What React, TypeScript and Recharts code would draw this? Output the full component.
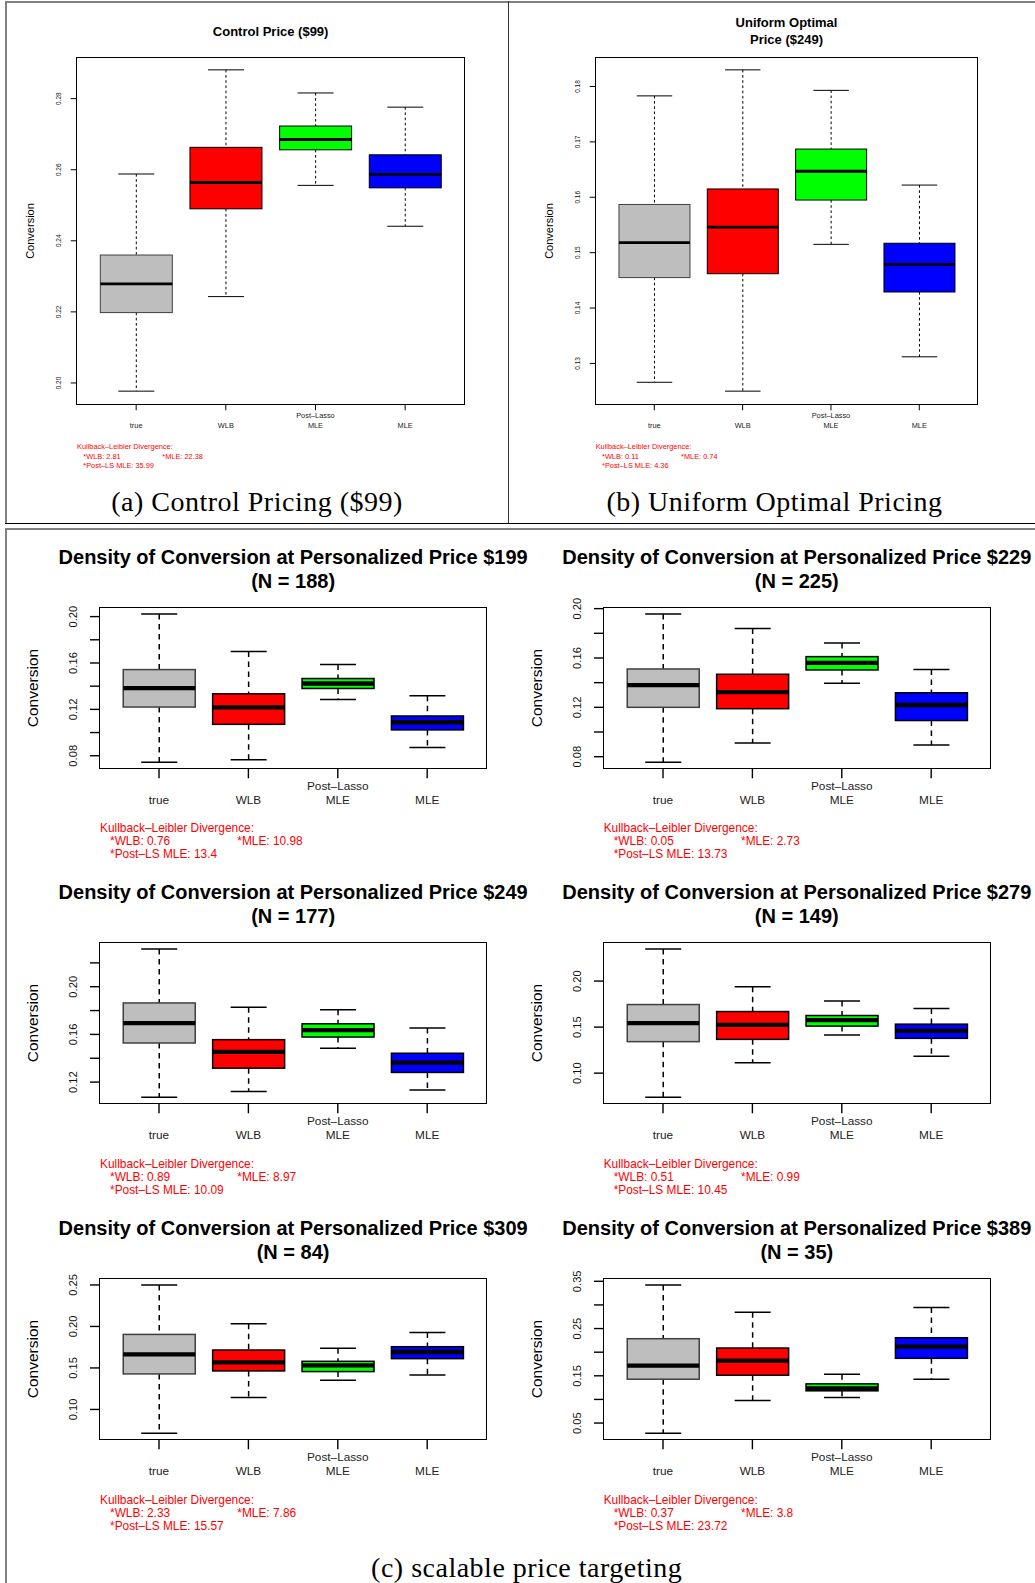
import React from 'react';
import { BarChart, Bar, XAxis, YAxis } from 'recharts';

// ---------- data ----------
const CATEGORIES = ['true', 'WLB', 'Post–Lasso\nMLE', 'MLE'];
const COLORS = ['#BEBEBE', '#FF0000', '#00FF00', '#0000FF'];
const BORDERS = ['#404040', '#000000', '#000000', '#000000'];

// five-number summaries per category: [lower whisker, Q1, median, Q3, upper whisker]
const CONTROL_99 = [
  [0.1977, 0.2198, 0.2279, 0.236, 0.2588],
  [0.2243, 0.249, 0.2564, 0.2663, 0.2881],
  [0.2556, 0.2656, 0.2685, 0.2723, 0.2816],
  [0.2441, 0.2549, 0.2587, 0.2642, 0.2776],
];
const UNIFORM_249 = [
  [0.1266, 0.1455, 0.1518, 0.1587, 0.1783],
  [0.125, 0.1462, 0.1546, 0.1615, 0.183],
  [0.1515, 0.1595, 0.1647, 0.1687, 0.1793],
  [0.1312, 0.1429, 0.1479, 0.1517, 0.1622],
];
const PERS_199 = [
  [0.0743, 0.122, 0.1383, 0.1543, 0.2023],
  [0.0766, 0.1071, 0.1217, 0.1334, 0.17],
  [0.1286, 0.138, 0.1423, 0.1466, 0.1586],
  [0.0871, 0.1023, 0.1089, 0.1143, 0.1317],
];
const PERS_229 = [
  [0.0754, 0.12, 0.138, 0.1511, 0.1957],
  [0.091, 0.1189, 0.1323, 0.1468, 0.1839],
  [0.1396, 0.1503, 0.156, 0.1611, 0.1721],
  [0.0894, 0.1093, 0.1219, 0.1318, 0.1506],
];
const PERS_249 = [
  [0.1072, 0.1528, 0.1694, 0.1864, 0.2317],
  [0.1122, 0.1317, 0.1453, 0.1556, 0.1828],
  [0.1483, 0.1578, 0.1636, 0.1689, 0.1806],
  [0.1133, 0.1281, 0.1364, 0.1442, 0.1653],
];
const PERS_279 = [
  [0.0737, 0.1342, 0.1543, 0.1745, 0.2349],
  [0.1112, 0.1367, 0.1525, 0.1669, 0.1939],
  [0.1414, 0.1511, 0.1576, 0.1626, 0.1784],
  [0.1183, 0.1378, 0.146, 0.1532, 0.1701],
];
const PERS_309 = [
  [0.0712, 0.1428, 0.1664, 0.1904, 0.25],
  [0.1144, 0.1464, 0.1568, 0.1716, 0.2032],
  [0.1352, 0.1456, 0.1532, 0.158, 0.1736],
  [0.1416, 0.1612, 0.1692, 0.1756, 0.1928],
];
const PERS_389 = [
  [0.0282, 0.1428, 0.1716, 0.2285, 0.3423],
  [0.0978, 0.1512, 0.1821, 0.2088, 0.2847],
  [0.1041, 0.1182, 0.1231, 0.1329, 0.1533],
  [0.1428, 0.187, 0.2116, 0.2306, 0.2946],
];

// y-axis ticks and the ones that carry a label
const TICKS_99 = [0.2, 0.22, 0.24, 0.26, 0.28];
const TICKS_U249 = [0.13, 0.14, 0.15, 0.16, 0.17, 0.18];
const TICKS_199 = [0.08, 0.1, 0.12, 0.14, 0.16, 0.18, 0.2];
const LABELS_199 = [0.08, 0.12, 0.16, 0.2];
const TICKS_229 = [0.08, 0.1, 0.12, 0.14, 0.16, 0.18, 0.2];
const LABELS_229 = [0.08, 0.12, 0.16, 0.2];
const TICKS_249 = [0.12, 0.14, 0.16, 0.18, 0.2, 0.22];
const LABELS_249 = [0.12, 0.16, 0.2];
const TICKS_279 = [0.1, 0.15, 0.2];
const TICKS_309 = [0.1, 0.15, 0.2, 0.25];
const TICKS_389 = [0.05, 0.1, 0.15, 0.2, 0.25, 0.3, 0.35];
const LABELS_389 = [0.05, 0.15, 0.25, 0.35];

// Kullback-Leibler divergence: [WLB, MLE, Post-LS MLE]
const KL_99 = ['2.81', '22.38', '35.99'];
const KL_U249 = ['0.11', '0.74', '4.36'];
const KL_199 = ['0.76', '10.98', '13.4'];
const KL_229 = ['0.05', '2.73', '13.73'];
const KL_249 = ['0.89', '8.97', '10.09'];
const KL_279 = ['0.51', '0.99', '10.45'];
const KL_309 = ['2.33', '7.86', '15.57'];
const KL_389 = ['0.37', '3.8', '23.72'];

const PRICES = ['$199', '$229', '$249', '$279', '$309', '$389'];
const NS = [188, 225, 177, 149, 84, 35];

// ---------- styles ----------
const SANS = "'Liberation Sans', Arial, Helvetica, sans-serif";
const SERIF = "'Liberation Serif', 'Times New Roman', serif";

const BIG = {
  frameW: 1.8, tickLen: 10, tickW: 1.4, yLabelOff: 26.8, tickFont: 11.2,
  catFont: 11.8, catY0: 7, catY1: 21, klFont: 11.9, klDy: [61, 74, 87], klDx: [0, 10, 137.3],
  titleFont: 20, convFont: 15.5, convDx: -66.7, boxW: 1.5, medW: 4.3, whiskW: 1.5, dash: '5.5 4.5',
};
const SMALL = {
  frameW: 1.3, tickLen: 6.3, tickW: 1, yLabelOff: 18.7, tickFont: 6.5,
  catFont: 7.4, catY0: 5.7, catY1: 15.7, klFont: 7.4, klDy: [43, 53, 62], klDx: [0, 6.3, 85.3],
  titleFont: 13, convFont: 11, convDx: -47, boxW: 1, medW: 2.8, whiskW: 1, dash: '2.6 2.6',
};

type Frame = { left: number; top: number; width: number; height: number };

const Txt = ({ x, y, size, children, anchor = 'middle', weight = 400, color = '#000', family = SANS, rotate = false, spacing = 0 }: any) => {
  const tx = anchor === 'middle' ? '-50%' : anchor === 'start' ? '0' : '-100%';
  return (
    <div
      style={{
        position: 'absolute', left: x, top: y, fontSize: size, fontWeight: weight, color,
        fontFamily: family, lineHeight: 1, whiteSpace: 'pre', letterSpacing: spacing,
        transform: `translate(${tx},-50%)${rotate ? ' rotate(-90deg)' : ''}`,
      }}
    >
      {children}
    </div>
  );
};

const near = (a: number, b: number) => Math.abs(a - b) < 1e-9;

function Panel({ frame, stats, ticks, labeled, big, titleLines, titleDy, kl }: {
  frame: Frame; stats: number[][]; ticks: number[]; labeled: number[]; big: boolean;
  titleLines: string[]; titleDy: number[]; kl: string[];
}) {
  const S = big ? BIG : SMALL;
  const data = CATEGORIES.map((name, i) => ({ name, idx: i, stats: stats[i], range: [stats[i][0], stats[i][4]] }));
  const lo = Math.min(...stats.map((s) => s[0]));
  const hi = Math.max(...stats.map((s) => s[4]));
  const ext = (hi - lo) * 0.04;
  const domain: [number, number] = [lo - ext, hi + ext];
  const yW = 70, padTop = 24, padRight = 6, xH = 50;
  const pad = (frame.width * 0.16) / 4.32;

  const BoxShape = (props: any) => {
    const { x, y, width, height, payload } = props;
    const top = Math.min(y, y + height);
    const bot = Math.max(y, y + height);
    const [wl, q1, med, q3, wh] = payload.stats;
    const py = (v: number) => bot - ((v - wl) / (wh - wl)) * (bot - top);
    const cx = x + width / 2;
    const cap = width / 4;
    const i = payload.idx;
    return (
      <g>
        <line x1={cx} x2={cx} y1={py(wh)} y2={py(q3)} stroke="#000" strokeWidth={S.whiskW} strokeDasharray={S.dash} />
        <line x1={cx} x2={cx} y1={py(q1)} y2={py(wl)} stroke="#000" strokeWidth={S.whiskW} strokeDasharray={S.dash} />
        <line x1={cx - cap} x2={cx + cap} y1={py(wh)} y2={py(wh)} stroke="#000" strokeWidth={S.whiskW} />
        <line x1={cx - cap} x2={cx + cap} y1={py(wl)} y2={py(wl)} stroke="#000" strokeWidth={S.whiskW} />
        <rect x={x} y={py(q3)} width={width} height={py(q1) - py(q3)} fill={COLORS[i]} stroke={BORDERS[i]} strokeWidth={S.boxW} />
        <line x1={x} x2={x + width} y1={py(med)} y2={py(med)} stroke="#000" strokeWidth={S.medW} />
      </g>
    );
  };

  const YTick = (props: any) => {
    const { x, y, payload } = props;
    const v = payload.value;
    if (!labeled.some((l) => near(l, v))) return <g />;
    return (
      <text x={x} y={y} transform={`rotate(-90 ${x} ${y})`} textAnchor="middle" dominantBaseline="central"
        fontSize={S.tickFont} fontFamily={SANS} fill="#111">
        {v.toFixed(2)}
      </text>
    );
  };

  const XTick = (props: any) => {
    const { x, y, payload } = props;
    const lines = String(payload.value).split('\n');
    const common = { textAnchor: 'middle' as const, dominantBaseline: 'central' as const, fontSize: S.catFont, fontFamily: SANS, fill: '#222' };
    if (lines.length === 2) {
      return (
        <g>
          <text x={x} y={y + S.catY0} {...common}>{lines[0]}</text>
          <text x={x} y={y + S.catY1} {...common}>{lines[1]}</text>
        </g>
      );
    }
    return <text x={x} y={y + S.catY1} {...common}>{lines[0]}</text>;
  };

  const cx = frame.left + frame.width / 2;
  const bottom = frame.top + frame.height;
  const klColor = '#FF0000';

  return (
    <>
      <div style={{ position: 'absolute', left: frame.left - yW, top: frame.top - padTop }}>
        <BarChart
          width={yW + frame.width + padRight}
          height={padTop + frame.height + xH}
          data={data}
          margin={{ top: padTop, right: padRight, left: 0, bottom: 0 }}
          barCategoryGap="10%"
        >
          <XAxis
            dataKey="name" type="category" interval={0} height={xH}
            padding={{ left: pad, right: pad }}
            axisLine={false} tickLine={{ stroke: '#000', strokeWidth: S.tickW }}
            tickSize={S.tickLen} tickMargin={0} tick={<XTick />}
          />
          <YAxis
            type="number" domain={domain} allowDataOverflow ticks={ticks} interval={0} width={yW}
            axisLine={false} tickLine={{ stroke: '#000', strokeWidth: S.tickW }}
            tickSize={S.tickLen} tickMargin={S.yLabelOff - S.tickLen} tick={<YTick />}
          />
          <Bar dataKey="range" isAnimationActive={false} shape={<BoxShape />} />
        </BarChart>
      </div>
      <div
        style={{
          position: 'absolute', left: frame.left - S.frameW / 2, top: frame.top - S.frameW / 2,
          width: frame.width + S.frameW, height: frame.height + S.frameW, boxSizing: 'border-box',
          border: `${S.frameW}px solid #000`, pointerEvents: 'none',
        }}
      />
      {titleLines.map((t, i) => (
        <Txt key={i} x={cx} y={frame.top + titleDy[i]} size={S.titleFont} weight={700}>{t}</Txt>
      ))}
      <Txt x={frame.left + S.convDx} y={frame.top + frame.height / 2} size={S.convFont} rotate>Conversion</Txt>
      <Txt x={frame.left + S.klDx[0]} y={bottom + S.klDy[0]} size={S.klFont} anchor="start" color={klColor}>Kullback–Leibler Divergence:</Txt>
      <Txt x={frame.left + S.klDx[1]} y={bottom + S.klDy[1]} size={S.klFont} anchor="start" color={klColor}>{`*WLB: ${kl[0]}`}</Txt>
      <Txt x={frame.left + S.klDx[2]} y={bottom + S.klDy[1]} size={S.klFont} anchor="start" color={klColor}>{`*MLE: ${kl[1]}`}</Txt>
      <Txt x={frame.left + S.klDx[1]} y={bottom + S.klDy[2]} size={S.klFont} anchor="start" color={klColor}>{`*Post–LS MLE: ${kl[2]}`}</Txt>
    </>
  );
}

const BIG_W = 386.2;
const BIG_H = 160.3;
const COL_X = [100, 603.7];
const ROW_Y = [607.7, 943.3, 1279.3];
const PERS_STATS = [PERS_199, PERS_229, PERS_249, PERS_279, PERS_309, PERS_389];
const PERS_TICKS = [TICKS_199, TICKS_229, TICKS_249, TICKS_279, TICKS_309, TICKS_389];
const PERS_LABELS = [LABELS_199, LABELS_229, LABELS_249, TICKS_279, TICKS_309, LABELS_389];
const PERS_KL = [KL_199, KL_229, KL_249, KL_279, KL_309, KL_389];

const Line = ({ x, y, w, h, color }: any) => (
  <div style={{ position: 'absolute', left: x, top: y, width: w, height: h, background: color }} />
);

export default function App() {
  return (
    <div style={{ position: 'absolute', left: 0, top: 0, width: 1035, height: 1583, background: '#fff', overflow: 'hidden' }}>
      {/* section borders */}
      <Line x={5} y={1} w={1030} h={1.6} color="#808080" />
      <Line x={5} y={1} w={1.6} h={522} color="#808080" />
      <Line x={507.5} y={1} w={1.2} h={522} color="#333" />
      <Line x={5} y={522.6} w={1030} h={1.3} color="#000" />
      <Line x={5} y={527.8} w={1030} h={1.8} color="#808080" />
      <Line x={5} y={527.8} w={1.6} h={1056} color="#808080" />

      <Panel
        frame={{ left: 77, top: 57.3, width: 387.3, height: 347 }}
        stats={CONTROL_99} ticks={TICKS_99} labeled={TICKS_99} big={false}
        titleLines={['Control Price ($99)']} titleDy={[-26.6]} kl={KL_99}
      />
      <Panel
        frame={{ left: 595.7, top: 57.3, width: 381.6, height: 347 }}
        stats={UNIFORM_249} ticks={TICKS_U249} labeled={TICKS_U249} big={false}
        titleLines={['Uniform Optimal', 'Price ($249)']} titleDy={[-35, -18.6]} kl={KL_U249}
      />
      <Txt x={257} y={501.7} size={28} family={SERIF} spacing={0.5}>(a) Control Pricing ($99)</Txt>
      <Txt x={774.5} y={501.7} size={28} family={SERIF} spacing={0.5}>(b) Uniform Optimal Pricing</Txt>

      {PERS_STATS.map((st, i) => (
        <Panel
          key={i}
          frame={{ left: COL_X[i % 2], top: ROW_Y[Math.floor(i / 2)], width: BIG_W, height: BIG_H }}
          stats={st} ticks={PERS_TICKS[i]} labeled={PERS_LABELS[i]} big
          titleLines={[`Density of Conversion at Personalized Price ${PRICES[i]}`, `(N = ${NS[i]})`]}
          titleDy={[-51, -27]} kl={PERS_KL[i]}
        />
      ))}
      <Txt x={526.7} y={1568} size={28} family={SERIF} spacing={0.5}>(c) scalable price targeting</Txt>
    </div>
  );
}
